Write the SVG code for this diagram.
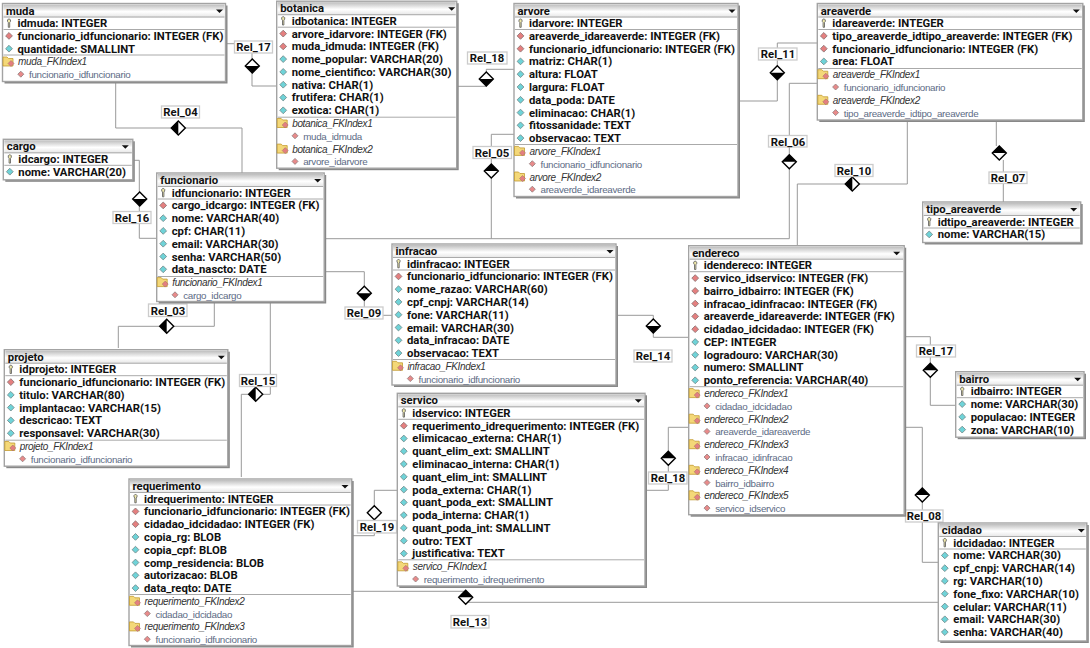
<svg xmlns="http://www.w3.org/2000/svg" width="1090" height="648" viewBox="0 0 1090 648">
<style>
text{font-family:"Roboto","Liberation Sans",sans-serif;fill:#111}
.t,.r,.l{font-size:11.3px;font-weight:700}
.i{font-family:"Liberation Sans",sans-serif;font-size:10px;letter-spacing:-.35px;font-style:italic;fill:#333}
.n{font-family:"Liberation Sans",sans-serif;font-size:9.8px;letter-spacing:-.3px;fill:#5c6b85}
.l{text-anchor:middle}
.c{fill:none;stroke:#999;stroke-width:1}
.lb{fill:#fff;stroke:#ccc;stroke-width:1.3}
.s{fill:#888}
.b{fill:#fff;stroke:#a3a3a3;stroke-width:1.4}
.h{fill:url(#g)}
.p{stroke:#aaa;stroke-width:1}
</style>
<defs>
<linearGradient id="g" x1="0" y1="0" x2="0" y2="1"><stop offset="0" stop-color="#bdbdbd"/><stop offset=".55" stop-color="#fff"/><stop offset="1" stop-color="#e4e4e4"/></linearGradient>
<path id="t" d="M-3.5-1H3.5L0 2.5Z" fill="#111"/>
<path id="k" d="M5-3.2a1.7 1.7 0 0 1 3 0v1.6L7.2-.6V4.2H5.8V-.6L5-1.6Z" fill="#efe8a8" stroke="#666" stroke-width=".9"/>
<g id="a"><path d="M6.5-3.4 9.9 0 6.5 3.4 3.1 0Z" fill="#6fd3d8" stroke="#6f8585" stroke-width=".8"/></g>
<g id="f"><path d="M6.5-3.4 9.9 0 6.5 3.4 3.1 0Z" fill="#e47f7f" stroke="#857070" stroke-width=".8"/></g>
<g id="d"><path d="M18.3-3 21.3 0 18.3 3 15.3 0Z" fill="#e88a8a" stroke="#907f7f" stroke-width=".8"/></g>
<g id="x"><path d="M.5-4.5H4.5L6-3H10.5V4.5H.5Z" fill="#f4d878" stroke="#c39a30" stroke-width=".8"/><path d="M8.5-1 11.5 2 8.5 5 5.5 2Z" fill="#e47f7f" stroke="#9a6a6a" stroke-width=".5"/></g>
<g id="dt"><path d="M-7 0 0-7 7 0 0 7Z" fill="#fff" stroke="#000" stroke-width="1.4"/><path d="M-7 0 0-7 7 0Z"/></g>
<g id="db"><path d="M-7 0 0-7 7 0 0 7Z" fill="#fff" stroke="#000" stroke-width="1.4"/><path d="M-7 0 0 7 7 0Z"/></g>
<g id="dl"><path d="M-7 0 0-7 7 0 0 7Z" fill="#fff" stroke="#000" stroke-width="1.4"/><path d="M0-7-7 0 0 7Z"/></g>
<path id="dw" d="M-7 0 0-7 7 0 0 7Z" fill="#fff" stroke="#000" stroke-width="1.4"/>
</defs>
<rect width="1090" height="648" fill="#fff"/>
<g id="connectors">
<path class="c" d="M226 43.7H252V86H277"/>
<path class="c" d="M115.7 82V128H242V173"/>
<path class="c" d="M133 160.3H139.3V238.3H157"/>
<path class="c" d="M214.3 302V326.3H118.3V348"/>
<path class="c" d="M270.3 302V394.3H241.3V477"/>
<path class="c" d="M325 271.7H364.3V315.3H392"/>
<path class="c" d="M514 134.3H491.3V238.7M325 238.7H789.3V83.3H817"/>
<path class="c" d="M514 69.3H486.3V86.3H457"/>
<path class="c" d="M739 101H777.3V43H817"/>
<path class="c" d="M996.3 121V146M1003.3 160V202"/>
<path class="c" d="M907.3 121V184H797.3V245"/>
<path class="c" d="M617 315.3H653.3V337.3H688"/>
<path class="c" d="M905 336.7H930.3V405.3H955"/>
<path class="c" d="M688 427.3H668.3V490.3H646"/>
<path class="c" d="M905 427.3H922.3V562.3H938"/>
<path class="c" d="M353 591.3H465.7V602.3H938"/>
<path class="c" d="M397 490.3H374.3V535.7H353"/>
<use href="#db" x="252.3" y="66"/><use href="#dl" x="178.3" y="128"/><use href="#db" x="139.7" y="199"/><use href="#dl" x="166.7" y="326.3"/><use href="#dl" x="255.7" y="394.3"/><use href="#db" x="364.3" y="293.3"/><use href="#dt" x="491.3" y="171"/><use href="#db" x="486.3" y="79"/><use href="#db" x="777.3" y="72.7"/><use href="#dt" x="789.3" y="161.7"/><use href="#dt" x="999.3" y="153"/><use href="#dl" x="852.3" y="184"/><use href="#db" x="653.3" y="326"/><use href="#dt" x="930.3" y="370.3"/><use href="#dt" x="668.3" y="458.3"/><use href="#dt" x="922.3" y="495"/><use href="#dt" x="465.7" y="597.3"/><use href="#dw" x="374.3" y="512.7"/>
<rect class="lb" x="234.5" y="41" width="38" height="12"/><text class="l" x="253.5" y="51">Rel_17</text>
<rect class="lb" x="161.5" y="106" width="38" height="12"/><text class="l" x="180.5" y="116">Rel_04</text>
<rect class="lb" x="113" y="211.5" width="38" height="12"/><text class="l" x="132" y="221.5">Rel_16</text>
<rect class="lb" x="148.5" y="304" width="38.5" height="12.5"/><text class="l" x="168" y="314.5">Rel_03</text>
<rect class="lb" x="239.5" y="374.5" width="37" height="12"/><text class="l" x="258" y="384.5">Rel_15</text>
<rect class="lb" x="345" y="307" width="38" height="12"/><text class="l" x="364" y="317">Rel_09</text>
<rect class="lb" x="473" y="146.5" width="38.5" height="12"/><text class="l" x="492" y="156.5">Rel_05</text>
<rect class="lb" x="467.5" y="52" width="39.5" height="12"/><text class="l" x="487" y="62">Rel_18</text>
<rect class="lb" x="758.5" y="48" width="38.5" height="12"/><text class="l" x="778" y="58">Rel_11</text>
<rect class="lb" x="768.5" y="135.5" width="38.5" height="11.5"/><text class="l" x="788" y="145.5">Rel_06</text>
<rect class="lb" x="989" y="172" width="38" height="11.5"/><text class="l" x="1008" y="182">Rel_07</text>
<rect class="lb" x="835" y="164.5" width="38" height="12"/><text class="l" x="854" y="174.5">Rel_10</text>
<rect class="lb" x="634" y="350" width="38" height="12"/><text class="l" x="653" y="360">Rel_14</text>
<rect class="lb" x="916.5" y="345" width="39" height="12"/><text class="l" x="936" y="355">Rel_17</text>
<rect class="lb" x="648.5" y="472" width="38.5" height="12"/><text class="l" x="668" y="482">Rel_18</text>
<rect class="lb" x="905.5" y="510" width="37.5" height="12"/><text class="l" x="924" y="520">Rel_08</text>
<rect class="lb" x="451" y="615.5" width="38" height="12.5"/><text class="l" x="470" y="626">Rel_13</text>
<rect class="lb" x="357.5" y="520.5" width="39" height="12.5"/><text class="l" x="377" y="531">Rel_19</text>
</g>
<g id="muda" transform="translate(2.5 3.5)">
<rect class="s" x="2" y="2" width="223" height="78"/><rect class="b" width="223" height="78"/><rect class="h" x="1" y="1" width="221" height="13"/><use href="#t" x="217" y="7"/>
<path class="p" d="M1 13.5H222M1 26H222M1 51.5H222"/>
<text class="t" x="3.5" y="11">muda</text>
<use href="#k" y="19.6"/><text class="r" x="15" y="23.6">idmuda: INTEGER</text>
<use href="#f" y="32.4"/><text class="r" x="15" y="36.4">funcionario_idfuncionario: INTEGER (FK)</text>
<use href="#a" y="45.2"/><text class="r" x="15" y="49.2">quantidade: SMALLINT</text>
<use href="#x" y="58"/><text class="i" x="15.5" y="61.9">muda_FKIndex1</text>
<use href="#d" y="70.7"/><text class="n" x="26.5" y="74.7">funcionario_idfuncionario</text>
</g>
<g id="cargo" transform="translate(3.3 139.3)">
<rect class="s" x="2" y="2" width="129.5" height="40.5"/><rect class="b" width="129.5" height="40.5"/><rect class="h" x="1" y="1" width="127.5" height="13"/><use href="#t" x="122" y="7"/>
<path class="p" d="M1 13.5H128.5M1 26H128.5"/>
<text class="t" x="3.5" y="11">cargo</text>
<use href="#k" y="19.6"/><text class="r" x="15" y="23.6">idcargo: INTEGER</text>
<use href="#a" y="32.4"/><text class="r" x="15" y="36.4">nome: VARCHAR(20)</text>
</g>
<g id="funcionario" transform="translate(156.7 173)">
<rect class="s" x="2" y="2" width="167.5" height="128.5"/><rect class="b" width="167.5" height="128.5"/><rect class="h" x="1" y="1" width="165.5" height="13"/><use href="#t" x="161" y="7"/>
<path class="p" d="M1 13.5H166.5M1 26H166.5M1 103.5H166.5"/>
<text class="t" x="3.5" y="11">funcionario</text>
<use href="#k" y="19.6"/><text class="r" x="15" y="23.6">idfuncionario: INTEGER</text>
<use href="#f" y="32.4"/><text class="r" x="15" y="36.4">cargo_idcargo: INTEGER (FK)</text>
<use href="#a" y="45.2"/><text class="r" x="15" y="49.2">nome: VARCHAR(40)</text>
<use href="#a" y="57.9"/><text class="r" x="15" y="61.9">cpf: CHAR(11)</text>
<use href="#a" y="70.7"/><text class="r" x="15" y="74.7">email: VARCHAR(30)</text>
<use href="#a" y="83.5"/><text class="r" x="15" y="87.5">senha: VARCHAR(50)</text>
<use href="#a" y="96.3"/><text class="r" x="15" y="100.3">data_nascto: DATE</text>
<use href="#x" y="109.1"/><text class="i" x="15.5" y="113.1">funcionario_FKIndex1</text>
<use href="#d" y="121.8"/><text class="n" x="26.5" y="125.8">cargo_idcargo</text>
</g>
<g id="projeto" transform="translate(4.3 349.7)">
<rect class="s" x="2" y="2" width="223.5" height="116.5"/><rect class="b" width="223.5" height="116.5"/><rect class="h" x="1" y="1" width="221.5" height="13"/><use href="#t" x="217" y="7"/>
<path class="p" d="M1 13.5H222.5M1 26H222.5M1 90.5H222.5"/>
<text class="t" x="3.5" y="11">projeto</text>
<use href="#k" y="19.6"/><text class="r" x="15" y="23.6">idprojeto: INTEGER</text>
<use href="#f" y="32.4"/><text class="r" x="15" y="36.4">funcionario_idfuncionario: INTEGER (FK)</text>
<use href="#a" y="45.2"/><text class="r" x="15" y="49.2">titulo: VARCHAR(80)</text>
<use href="#a" y="57.9"/><text class="r" x="15" y="61.9">implantacao: VARCHAR(15)</text>
<use href="#a" y="70.7"/><text class="r" x="15" y="74.7">descricao: TEXT</text>
<use href="#a" y="83.5"/><text class="r" x="15" y="87.5">responsavel: VARCHAR(30)</text>
<use href="#x" y="96.3"/><text class="i" x="15.5" y="100.3">projeto_FKIndex1</text>
<use href="#d" y="109.1"/><text class="n" x="26.5" y="113.1">funcionario_idfuncionario</text>
</g>
<g id="requerimento" transform="translate(129 479)">
<rect class="s" x="2" y="2" width="222.7" height="166.5"/><rect class="b" width="222.7" height="166.5"/><rect class="h" x="1" y="1" width="220.7" height="13"/><use href="#t" x="216" y="7"/>
<path class="p" d="M1 13.5H221.7M1 26H221.7M1 115.5H221.7"/>
<text class="t" x="3.5" y="11">requerimento</text>
<use href="#k" y="19.6"/><text class="r" x="15" y="23.6">idrequerimento: INTEGER</text>
<use href="#f" y="32.4"/><text class="r" x="15" y="36.4">funcionario_idfuncionario: INTEGER (FK)</text>
<use href="#f" y="45.2"/><text class="r" x="15" y="49.2">cidadao_idcidadao: INTEGER (FK)</text>
<use href="#a" y="57.9"/><text class="r" x="15" y="61.9">copia_rg: BLOB</text>
<use href="#a" y="70.7"/><text class="r" x="15" y="74.7">copia_cpf: BLOB</text>
<use href="#a" y="83.5"/><text class="r" x="15" y="87.5">comp_residencia: BLOB</text>
<use href="#a" y="96.3"/><text class="r" x="15" y="100.3">autorizacao: BLOB</text>
<use href="#a" y="109.1"/><text class="r" x="15" y="113.1">data_reqto: DATE</text>
<use href="#x" y="121.8"/><text class="i" x="15.5" y="125.8">requerimento_FKIndex2</text>
<use href="#d" y="134.6"/><text class="n" x="26.5" y="138.6">cidadao_idcidadao</text>
<use href="#x" y="147.4"/><text class="i" x="15.5" y="151.4">requerimento_FKIndex3</text>
<use href="#d" y="160.2"/><text class="n" x="26.5" y="164.2">funcionario_idfuncionario</text>
</g>
<g id="botanica" transform="translate(276.7 1.2)">
<rect class="s" x="2" y="2" width="180" height="167"/><rect class="b" width="180" height="167"/><rect class="h" x="1" y="1" width="178" height="13"/><use href="#t" x="175" y="7"/>
<path class="p" d="M1 13.5H179M1 26H179M1 116H179"/>
<text class="t" x="3.5" y="11">botanica</text>
<use href="#k" y="19.6"/><text class="r" x="15" y="23.6">idbotanica: INTEGER</text>
<use href="#f" y="32.4"/><text class="r" x="15" y="36.4">arvore_idarvore: INTEGER (FK)</text>
<use href="#f" y="45.2"/><text class="r" x="15" y="49.2">muda_idmuda: INTEGER (FK)</text>
<use href="#a" y="57.9"/><text class="r" x="15" y="61.9">nome_popular: VARCHAR(20)</text>
<use href="#a" y="70.7"/><text class="r" x="15" y="74.7">nome_cientifico: VARCHAR(30)</text>
<use href="#a" y="83.5"/><text class="r" x="15" y="87.5">nativa: CHAR(1)</text>
<use href="#a" y="96.3"/><text class="r" x="15" y="100.3">frutifera: CHAR(1)</text>
<use href="#a" y="109.1"/><text class="r" x="15" y="113.1">exotica: CHAR(1)</text>
<use href="#x" y="121.8"/><text class="i" x="15.5" y="125.8">botanica_FKIndex1</text>
<use href="#d" y="134.6"/><text class="n" x="26.5" y="138.6">muda_idmuda</text>
<use href="#x" y="147.4"/><text class="i" x="15.5" y="151.4">botanica_FKIndex2</text>
<use href="#d" y="160.2"/><text class="n" x="26.5" y="164.2">arvore_idarvore</text>
</g>
<g id="arvore" transform="translate(514 3.5)">
<rect class="s" x="2" y="2" width="224" height="193"/><rect class="b" width="224" height="193"/><rect class="h" x="1" y="1" width="222" height="13"/><use href="#t" x="218" y="7"/>
<path class="p" d="M1 13.5H223M1 26H223M1 141H223"/>
<text class="t" x="3.5" y="11">arvore</text>
<use href="#k" y="19.6"/><text class="r" x="15" y="23.6">idarvore: INTEGER</text>
<use href="#f" y="32.4"/><text class="r" x="15" y="36.4">areaverde_idareaverde: INTEGER (FK)</text>
<use href="#f" y="45.2"/><text class="r" x="15" y="49.2">funcionario_idfuncionario: INTEGER (FK)</text>
<use href="#a" y="57.9"/><text class="r" x="15" y="61.9">matriz: CHAR(1)</text>
<use href="#a" y="70.7"/><text class="r" x="15" y="74.7">altura: FLOAT</text>
<use href="#a" y="83.5"/><text class="r" x="15" y="87.5">largura: FLOAT</text>
<use href="#a" y="96.3"/><text class="r" x="15" y="100.3">data_poda: DATE</text>
<use href="#a" y="109.1"/><text class="r" x="15" y="113.1">eliminacao: CHAR(1)</text>
<use href="#a" y="121.8"/><text class="r" x="15" y="125.8">fitossanidade: TEXT</text>
<use href="#a" y="134.6"/><text class="r" x="15" y="138.6">observacao: TEXT</text>
<use href="#x" y="147.4"/><text class="i" x="15.5" y="151.4">arvore_FKIndex1</text>
<use href="#d" y="160.2"/><text class="n" x="26.5" y="164.2">funcionario_idfuncionario</text>
<use href="#x" y="173"/><text class="i" x="15.5" y="177">arvore_FKIndex2</text>
<use href="#d" y="185.7"/><text class="n" x="26.5" y="189.7">areaverde_idareaverde</text>
</g>
<g id="areaverde" transform="translate(817.3 3.5)">
<rect class="s" x="2" y="2" width="265.5" height="116.5"/><rect class="b" width="265.5" height="116.5"/><rect class="h" x="1" y="1" width="263.5" height="13"/><use href="#t" x="259" y="7"/>
<path class="p" d="M1 13.5H264.5M1 26H264.5M1 65H264.5"/>
<text class="t" x="3.5" y="11">areaverde</text>
<use href="#k" y="19.6"/><text class="r" x="15" y="23.6">idareaverde: INTEGER</text>
<use href="#f" y="32.4"/><text class="r" x="15" y="36.4">tipo_areaverde_idtipo_areaverde: INTEGER (FK)</text>
<use href="#f" y="45.2"/><text class="r" x="15" y="49.2">funcionario_idfuncionario: INTEGER (FK)</text>
<use href="#a" y="57.9"/><text class="r" x="15" y="61.9">area: FLOAT</text>
<use href="#x" y="70.7"/><text class="i" x="15.5" y="74.7">areaverde_FKIndex1</text>
<use href="#d" y="83.5"/><text class="n" x="26.5" y="87.5">funcionario_idfuncionario</text>
<use href="#x" y="96.3"/><text class="i" x="15.5" y="100.3">areaverde_FKIndex2</text>
<use href="#d" y="109.1"/><text class="n" x="26.5" y="113.1">tipo_areaverde_idtipo_areaverde</text>
</g>
<g id="tipo_areaverde" transform="translate(922.7 202)">
<rect class="s" x="2" y="2" width="158" height="40.5"/><rect class="b" width="158" height="40.5"/><rect class="h" x="1" y="1" width="156" height="13"/><use href="#t" x="151" y="7"/>
<path class="p" d="M1 13.5H157M1 26H157"/>
<text class="t" x="3.5" y="11">tipo_areaverde</text>
<use href="#k" y="19.6"/><text class="r" x="15" y="23.6">idtipo_areaverde: INTEGER</text>
<use href="#a" y="32.4"/><text class="r" x="15" y="36.4">nome: VARCHAR(15)</text>
</g>
<g id="infracao" transform="translate(392 244)">
<rect class="s" x="2" y="2" width="224" height="141"/><rect class="b" width="224" height="141"/><rect class="h" x="1" y="1" width="222" height="13"/><use href="#t" x="218" y="7"/>
<path class="p" d="M1 13.5H223M1 26H223M1 115.5H223"/>
<text class="t" x="3.5" y="11">infracao</text>
<use href="#k" y="19.6"/><text class="r" x="15" y="23.6">idinfracao: INTEGER</text>
<use href="#f" y="32.4"/><text class="r" x="15" y="36.4">funcionario_idfuncionario: INTEGER (FK)</text>
<use href="#a" y="45.2"/><text class="r" x="15" y="49.2">nome_razao: VARCHAR(60)</text>
<use href="#a" y="57.9"/><text class="r" x="15" y="61.9">cpf_cnpj: VARCHAR(14)</text>
<use href="#a" y="70.7"/><text class="r" x="15" y="74.7">fone: VARCHAR(11)</text>
<use href="#a" y="83.5"/><text class="r" x="15" y="87.5">email: VARCHAR(30)</text>
<use href="#a" y="96.3"/><text class="r" x="15" y="100.3">data_infracao: DATE</text>
<use href="#a" y="109.1"/><text class="r" x="15" y="113.1">observacao: TEXT</text>
<use href="#x" y="121.8"/><text class="i" x="15.5" y="125.8">infracao_FKIndex1</text>
<use href="#d" y="134.6"/><text class="n" x="26.5" y="138.6">funcionario_idfuncionario</text>
</g>
<g id="endereco" transform="translate(688.7 245.7)">
<rect class="s" x="2" y="2" width="215.5" height="269"/><rect class="b" width="215.5" height="269"/><rect class="h" x="1" y="1" width="213.5" height="13"/><use href="#t" x="208" y="7"/>
<path class="p" d="M1 13.5H214.5M1 26H214.5M1 141H214.5"/>
<text class="t" x="3.5" y="11">endereco</text>
<use href="#k" y="19.6"/><text class="r" x="15" y="23.6">idendereco: INTEGER</text>
<use href="#f" y="32.4"/><text class="r" x="15" y="36.4">servico_idservico: INTEGER (FK)</text>
<use href="#f" y="45.2"/><text class="r" x="15" y="49.2">bairro_idbairro: INTEGER (FK)</text>
<use href="#f" y="57.9"/><text class="r" x="15" y="61.9">infracao_idinfracao: INTEGER (FK)</text>
<use href="#f" y="70.7"/><text class="r" x="15" y="74.7">areaverde_idareaverde: INTEGER (FK)</text>
<use href="#f" y="83.5"/><text class="r" x="15" y="87.5">cidadao_idcidadao: INTEGER (FK)</text>
<use href="#a" y="96.3"/><text class="r" x="15" y="100.3">CEP: INTEGER</text>
<use href="#a" y="109.1"/><text class="r" x="15" y="113.1">logradouro: VARCHAR(30)</text>
<use href="#a" y="121.8"/><text class="r" x="15" y="125.8">numero: SMALLINT</text>
<use href="#a" y="134.6"/><text class="r" x="15" y="138.6">ponto_referencia: VARCHAR(40)</text>
<use href="#x" y="147.4"/><text class="i" x="15.5" y="151.4">endereco_FKIndex1</text>
<use href="#d" y="160.2"/><text class="n" x="26.5" y="164.2">cidadao_idcidadao</text>
<use href="#x" y="173"/><text class="i" x="15.5" y="177">endereco_FKIndex2</text>
<use href="#d" y="185.7"/><text class="n" x="26.5" y="189.7">areaverde_idareaverde</text>
<use href="#x" y="198.5"/><text class="i" x="15.5" y="202.5">endereco_FKIndex3</text>
<use href="#d" y="211.3"/><text class="n" x="26.5" y="215.3">infracao_idinfracao</text>
<use href="#x" y="224.1"/><text class="i" x="15.5" y="228.1">endereco_FKIndex4</text>
<use href="#d" y="236.9"/><text class="n" x="26.5" y="240.9">bairro_idbairro</text>
<use href="#x" y="249.6"/><text class="i" x="15.5" y="253.6">endereco_FKIndex5</text>
<use href="#d" y="262.4"/><text class="n" x="26.5" y="266.4">servico_idservico</text>
</g>
<g id="bairro" transform="translate(955.7 371.7)">
<rect class="s" x="2" y="2" width="128.3" height="65.5"/><rect class="b" width="128.3" height="65.5"/><rect class="h" x="1" y="1" width="126.3" height="13"/><use href="#t" x="122" y="7"/>
<path class="p" d="M1 13.5H127.3M1 26H127.3"/>
<text class="t" x="3.5" y="11">bairro</text>
<use href="#k" y="19.6"/><text class="r" x="15" y="23.6">idbairro: INTEGER</text>
<use href="#a" y="32.4"/><text class="r" x="15" y="36.4">nome: VARCHAR(30)</text>
<use href="#a" y="45.2"/><text class="r" x="15" y="49.2">populacao: INTEGER</text>
<use href="#a" y="57.9"/><text class="r" x="15" y="61.9">zona: VARCHAR(10)</text>
</g>
<g id="servico" transform="translate(397.3 393.3)">
<rect class="s" x="2" y="2" width="247.7" height="192.7"/><rect class="b" width="247.7" height="192.7"/><rect class="h" x="1" y="1" width="245.7" height="13"/><use href="#t" x="241" y="7"/>
<path class="p" d="M1 13.5H246.7M1 26H246.7M1 166.5H246.7"/>
<text class="t" x="3.5" y="11">servico</text>
<use href="#k" y="19.6"/><text class="r" x="15" y="23.6">idservico: INTEGER</text>
<use href="#f" y="32.4"/><text class="r" x="15" y="36.4">requerimento_idrequerimento: INTEGER (FK)</text>
<use href="#a" y="45.2"/><text class="r" x="15" y="49.2">elimicacao_externa: CHAR(1)</text>
<use href="#a" y="57.9"/><text class="r" x="15" y="61.9">quant_elim_ext: SMALLINT</text>
<use href="#a" y="70.7"/><text class="r" x="15" y="74.7">eliminacao_interna: CHAR(1)</text>
<use href="#a" y="83.5"/><text class="r" x="15" y="87.5">quant_elim_int: SMALLINT</text>
<use href="#a" y="96.3"/><text class="r" x="15" y="100.3">poda_externa: CHAR(1)</text>
<use href="#a" y="109.1"/><text class="r" x="15" y="113.1">quant_poda_ext: SMALLINT</text>
<use href="#a" y="121.8"/><text class="r" x="15" y="125.8">poda_interna: CHAR(1)</text>
<use href="#a" y="134.6"/><text class="r" x="15" y="138.6">quant_poda_int: SMALLINT</text>
<use href="#a" y="147.4"/><text class="r" x="15" y="151.4">outro: TEXT</text>
<use href="#a" y="160.2"/><text class="r" x="15" y="164.2">justificativa: TEXT</text>
<use href="#x" y="173"/><text class="i" x="15.5" y="177">servico_FKIndex1</text>
<use href="#d" y="185.7"/><text class="n" x="26.5" y="189.7">requerimento_idrequerimento</text>
</g>
<g id="cidadao" transform="translate(938.3 523)">
<rect class="s" x="2" y="2" width="148.5" height="118"/><rect class="b" width="148.5" height="118"/><rect class="h" x="1" y="1" width="146.5" height="13"/><use href="#t" x="143" y="7"/>
<path class="p" d="M1 13.5H147.5M1 26H147.5"/>
<text class="t" x="3.5" y="11">cidadao</text>
<use href="#k" y="19.6"/><text class="r" x="15" y="23.6">idcidadao: INTEGER</text>
<use href="#a" y="32.4"/><text class="r" x="15" y="36.4">nome: VARCHAR(30)</text>
<use href="#a" y="45.2"/><text class="r" x="15" y="49.2">cpf_cnpj: VARCHAR(14)</text>
<use href="#a" y="57.9"/><text class="r" x="15" y="61.9">rg: VARCHAR(10)</text>
<use href="#a" y="70.7"/><text class="r" x="15" y="74.7">fone_fixo: VARCHAR(10)</text>
<use href="#a" y="83.5"/><text class="r" x="15" y="87.5">celular: VARCHAR(11)</text>
<use href="#a" y="96.3"/><text class="r" x="15" y="100.3">email: VARCHAR(30)</text>
<use href="#a" y="109.1"/><text class="r" x="15" y="113.1">senha: VARCHAR(40)</text>
</g>
</svg>
